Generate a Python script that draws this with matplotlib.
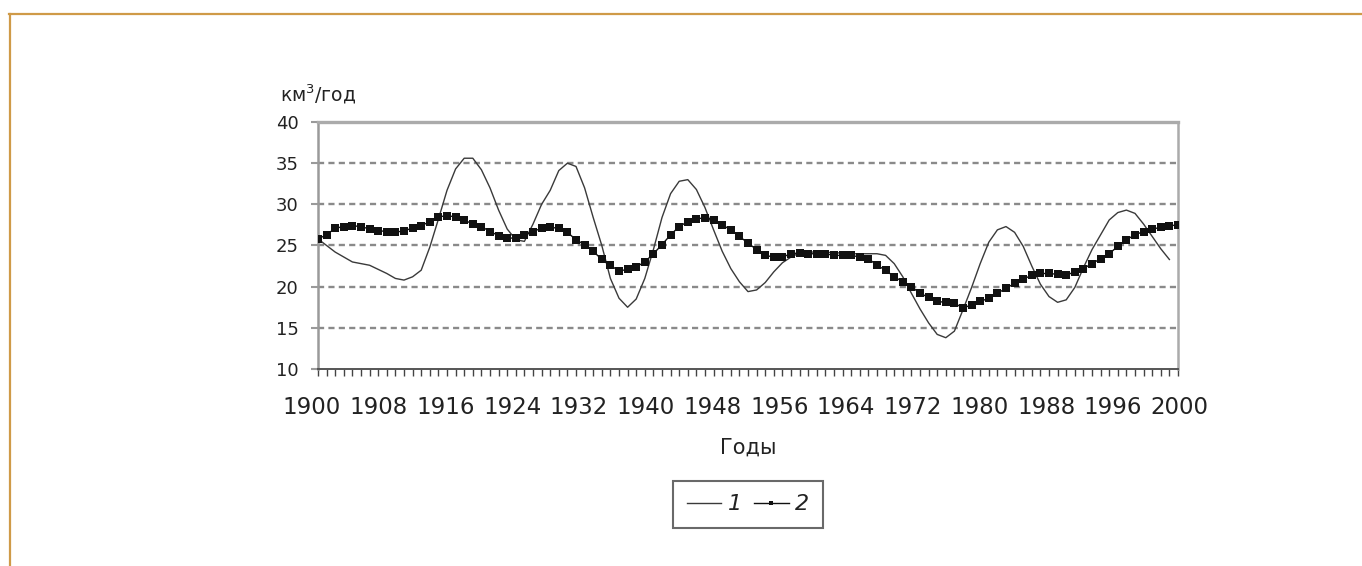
import numpy as np
import matplotlib
matplotlib.use("Agg")
import matplotlib.pyplot as plt
from matplotlib.lines import Line2D

# ---- data ----
years1 = list(range(1900, 2000))
series1 = [25.8, 25.0, 24.2, 23.6, 23.0, 22.8, 22.6, 22.1, 21.6, 21.0,
           20.8, 21.2, 22.0, 24.8, 28.2, 31.7, 34.3, 35.6, 35.6, 34.2,
           32.0, 29.3, 27.0, 25.7, 25.5, 27.6, 30.0, 31.7, 34.1, 35.0,
           34.6, 32.0, 28.4, 25.0, 21.0, 18.6, 17.5, 18.5, 21.0, 24.5,
           28.4, 31.3, 32.8, 33.0, 31.8, 29.6, 26.9, 24.3, 22.2, 20.6,
           19.4, 19.6, 20.5, 21.8, 22.9, 23.6, 24.1, 24.2, 24.2, 24.2,
           24.1, 24.1, 24.0, 24.0, 24.0, 24.0, 23.8, 22.8, 21.2, 19.2,
           17.3, 15.6, 14.2, 13.8, 14.6, 17.2, 19.9, 22.8, 25.4, 26.9,
           27.3, 26.6, 24.9, 22.5, 20.3, 18.8, 18.1, 18.4, 19.9, 22.3,
           24.5, 26.3, 28.1, 29.0, 29.3, 28.9, 27.6, 26.1, 24.6, 23.3]

years2 = list(range(1900, 2001))
series2 = [25.8, 26.3, 27.1, 27.3, 27.4, 27.3, 27.0, 26.8, 26.7, 26.6,
           26.8, 27.1, 27.4, 27.9, 28.5, 28.6, 28.5, 28.1, 27.6, 27.3,
           26.7, 26.2, 25.9, 25.9, 26.3, 26.7, 27.1, 27.2, 27.1, 26.6,
           25.7, 25.1, 24.3, 23.3, 22.6, 21.9, 22.1, 22.4, 23.0, 24.0,
           25.1, 26.3, 27.3, 27.9, 28.2, 28.4, 28.1, 27.5, 26.9, 26.1,
           25.3, 24.5, 23.8, 23.6, 23.6, 24.0, 24.1, 24.0, 24.0, 24.0,
           23.8, 23.8, 23.8, 23.6, 23.4, 22.6, 22.0, 21.2, 20.6, 20.0,
           19.2, 18.7, 18.2, 18.1, 18.0, 17.4, 17.8, 18.2, 18.6, 19.2,
           19.8, 20.4, 20.9, 21.4, 21.6, 21.6, 21.5, 21.4, 21.8, 22.2,
           22.8, 23.4, 24.0, 24.9, 25.7, 26.3, 26.7, 27.0, 27.2, 27.4,
           27.5]

x_tick_labels = ["1900", "1908", "1916", "1924", "1932", "1940", "1948",
                 "1956", "1964", "1972", "1980", "1988", "1996", "2000"]
y_ticks = [10, 15, 20, 25, 30, 35, 40]
legend_labels = ["1", "2"]

# ---- figure ----
W, H = 1362, 566
fig = plt.figure(figsize=(W / 100, H / 100), dpi=100)
fig.patch.set_facecolor("white")

# orange frame (top and left)
border_c = "#CF9A48"
fig.add_artist(Line2D([9 / W, 1.0], [1 - 13.5 / H, 1 - 13.5 / H],
                      transform=fig.transFigure, color=border_c, lw=1.6))
fig.add_artist(Line2D([9.5 / W, 9.5 / W], [0.0, 1 - 13.5 / H],
                      transform=fig.transFigure, color=border_c, lw=1.6))

ax = fig.add_axes([318 / W, 1 - 369 / H, (1178 - 318) / W, (369 - 122) / H])
ax.set_xlim(1900, 2000)
ax.set_ylim(10, 40)

# grid
ax.set_yticks(y_ticks)
for v in y_ticks[1:-1]:
    ax.axhline(v, color="#8a8a8a", lw=1.7, linestyle=(0, (2.6, 1.8)), zorder=1)

# series
l1, = ax.plot(years1, series1, color="#3a3a3a", lw=1.0, zorder=3)
l2, = ax.plot(years2, series2, color="#111111", lw=1.0, marker="s",
              markersize=5.3, markeredgewidth=0, zorder=4)

# spines
ax.spines["left"].set_color("#9a9a9a")
ax.spines["left"].set_linewidth(1.8)
ax.spines["bottom"].set_color("#555555")
ax.spines["bottom"].set_linewidth(1.4)
ax.spines["top"].set_color("#ababab")
ax.spines["top"].set_linewidth(2.4)
ax.spines["right"].set_color("#ababab")
ax.spines["right"].set_linewidth(1.8)

# y ticks
ax.tick_params(axis="y", direction="out", length=5, width=1.5, color="#9a9a9a",
               labelsize=13, pad=9, labelcolor="#222222")

# x ticks: minor ticks every year, labels as text
ax.set_xticks([])
ax.set_xticks(years2, minor=True)
ax.tick_params(axis="x", which="minor", direction="out", length=5, width=1.0,
               color="#444444")
label_pos = np.linspace(1899.3, 2000.2, len(x_tick_labels))
for xp, lab in zip(label_pos, x_tick_labels):
    ax.text(xp, -0.155, lab, transform=ax.get_xaxis_transform(),
            ha="center", va="center", fontsize=16.5, color="#222222")

ax.text(0.5, -0.32, "Годы", transform=ax.transAxes, ha="center", va="center",
        fontsize=15, color="#222222")

fig.text(280 / W, 1 - 94 / H, "км$^3$/год", ha="left", va="center",
         fontsize=13.5, color="#222222")

# legend
leg = fig.legend([l1, l2], legend_labels, loc="center",
                 bbox_to_anchor=(748 / W, 1 - 504.5 / H), ncol=2,
                 frameon=True, fancybox=False, handlelength=1.55,
                 handletextpad=0.3, columnspacing=0.55, borderpad=0.6,
                 borderaxespad=0.0, markerscale=0.6,
                 prop={"style": "italic", "size": 16})
leg.get_frame().set_edgecolor("#444444")
leg.get_frame().set_linewidth(1.5)
for t in leg.get_texts():
    t.set_color("#222222")

fig.savefig("out.png", dpi=100, facecolor="white")
